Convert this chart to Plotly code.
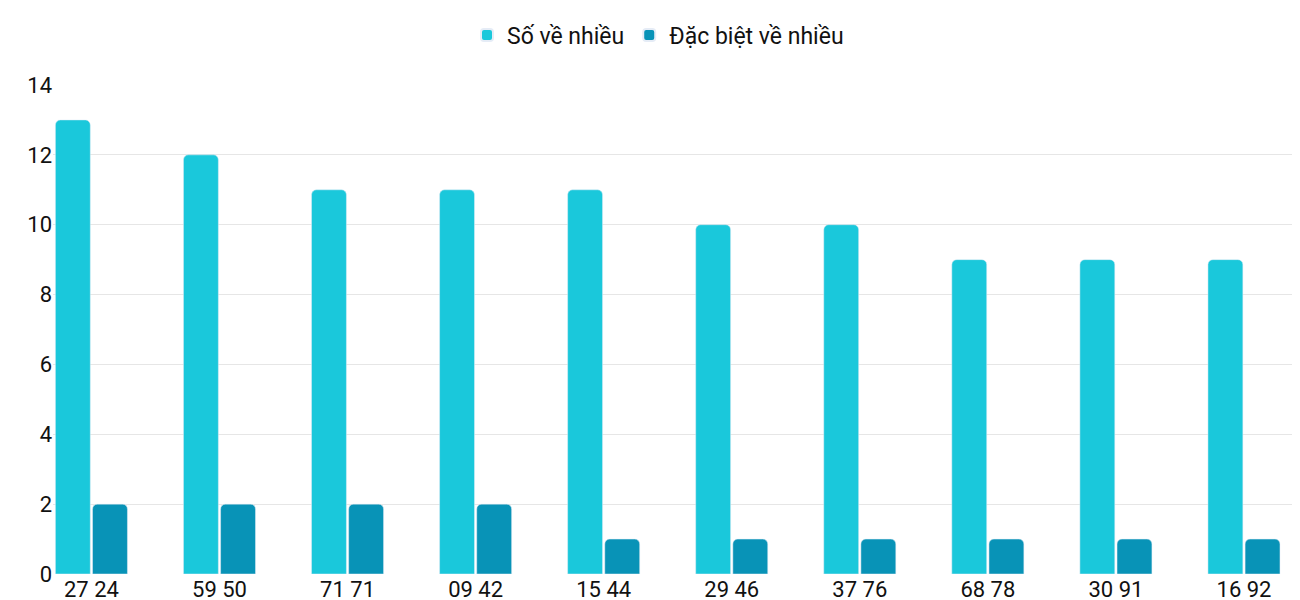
import plotly.graph_objects as go

categories = ["27 24", "59 50", "71 71", "09 42", "15 44", "29 46", "37 76", "68 78", "30 91", "16 92"]
so_ve_nhieu = [13, 12, 11, 11, 11, 10, 10, 9, 9, 9]
dac_biet = [2, 2, 2, 2, 1, 1, 1, 1, 1, 1]

fig = go.Figure()
fig.add_bar(x=categories, y=so_ve_nhieu, name="Số về nhiều", marker_color="#1AC8DB")
fig.add_bar(x=categories, y=dac_biet, name="Đặc biệt về nhiều", marker_color="#0893B7")
fig.update_layout(
    width=1300, height=600, barmode="group", bargap=0.42, bargroupgap=0.06,
    barcornerradius=5,
    plot_bgcolor="white", paper_bgcolor="white",
    font=dict(family="Roboto", size=22, color="#111"),
    margin=dict(l=45, r=0, t=77, b=34, autoexpand=False),
    legend=dict(orientation="h", x=0.5, xanchor="center", xref="container",
                y=0.955, yanchor="middle", yref="container",
                font=dict(size=23), itemsizing="constant"),
    xaxis=dict(showgrid=False, ticks="", range=[-0.3, 9.5], tickfont=dict(size=22)),
    yaxis=dict(range=[0, 14], dtick=2, gridcolor="#e6e6e6", zeroline=False,
               ticks="", tickfont=dict(size=22)),
)
fig.write_html("out.html")
